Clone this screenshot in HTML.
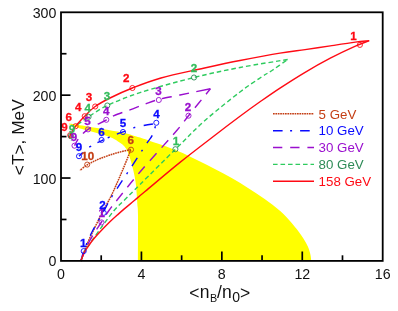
<!DOCTYPE html>
<html><head><meta charset="utf-8"><title>chart</title>
<style>
html,body{margin:0;padding:0;background:#fff;}
body{width:398px;height:311px;overflow:hidden;position:relative;font-family:"Liberation Sans",sans-serif;}
svg text{font-family:"Liberation Sans",sans-serif;}
</style></head><body>
<svg width="398" height="311" viewBox="0 0 398 311" style="position:absolute;left:0;top:0;will-change:transform;opacity:0.999">
<rect x="0" y="0" width="398" height="311" fill="#fff"/>
<path d="M69.0 123.4 C71.2 123.8 76.6 124.6 82.1 125.6 C87.6 126.5 95.5 127.9 102.2 129.1 C108.9 130.3 115.7 131.1 122.3 132.6 C128.9 134.1 137.4 136.9 142.0 138.3 C146.6 139.7 145.9 139.6 150.0 140.9 C154.1 142.2 160.9 144.4 166.3 146.4 C171.8 148.4 177.2 150.6 182.7 153.0 C188.1 155.4 193.6 158.4 199.0 161.1 C204.4 163.8 209.9 166.5 215.3 169.3 C220.8 172.1 226.2 175.0 231.7 178.1 C237.1 181.2 242.6 184.5 248.0 187.9 C253.4 191.3 258.9 194.8 264.3 198.7 C269.7 202.5 275.6 206.9 280.2 211.0 C284.8 215.1 288.2 218.9 291.7 223.0 C295.2 227.1 298.8 231.7 301.4 235.5 C304.0 239.3 306.1 242.8 307.6 246.0 C309.1 249.2 309.8 251.9 310.4 254.4 C311.0 256.9 311.1 259.9 311.2 261.0 L138.0 261 L138.0 261.0 C138.0 253.3 138.1 224.3 138.0 215.0 C137.9 205.7 137.6 208.0 137.4 205.0 C137.2 202.0 137.2 200.9 136.9 197.0 C136.6 193.1 136.2 186.1 135.5 181.4 C134.8 176.7 133.8 172.3 133.0 169.0 C132.2 165.7 131.7 163.9 131.0 161.5 C130.3 159.1 129.6 156.6 128.8 154.5 C128.0 152.4 127.2 150.5 126.2 148.8 C125.2 147.1 123.9 145.7 122.5 144.5 C121.1 143.3 119.7 142.6 118.0 141.5 C116.3 140.4 114.9 139.3 112.3 138.1 C109.7 136.9 107.2 136.0 102.2 134.5 C97.2 133.0 87.6 130.8 82.1 129.1 C76.6 127.4 71.2 125.0 69.0 124.2 Z" fill="#ffff00" stroke="none"/>
<path d="M80.9 261.0 C82.1 257.8 85.3 248.3 88.1 241.8 C90.9 235.3 94.4 228.3 97.5 222.0 C100.6 215.7 104.2 209.1 106.9 204.0 C109.6 198.9 110.6 197.3 113.4 191.2 C116.2 185.1 120.8 174.4 123.7 167.5 C126.6 160.6 129.7 152.5 130.9 149.5" fill="none" stroke="#c43e14" stroke-width="1.5" stroke-dasharray="1.7 0.7"/>
<path d="M130.9 149.5 C129.1 149.9 123.5 151.1 120.0 152.0 C116.5 152.9 113.3 153.9 110.0 155.0 C106.7 156.1 103.0 157.4 100.2 158.5 C97.4 159.6 95.2 160.8 93.0 161.8 C90.8 162.9 89.4 163.4 87.2 164.8 C85.0 166.2 81.1 169.5 79.9 170.4" fill="none" stroke="#c43e14" stroke-width="1.5" stroke-dasharray="1.7 0.7"/>
<path d="M80.9 261.0 C81.4 259.2 82.2 255.1 84.0 250.3 C85.8 245.5 88.8 238.3 92.0 232.0 C95.2 225.7 99.6 218.5 103.0 212.5 C106.4 206.5 107.7 203.2 112.2 196.0 C116.7 188.8 124.2 177.8 130.0 169.0 C135.8 160.2 143.2 148.8 146.9 143.2 C150.6 137.6 150.7 138.5 152.3 135.2 C153.9 131.9 155.6 125.5 156.3 123.5" fill="none" stroke="#0a0aff" stroke-width="1.4" stroke-dasharray="9.6 7.5 2 8" stroke-dashoffset="27.06"/>
<path d="M156.3 123.5 C154.1 123.8 146.9 124.9 143.2 125.6 C139.5 126.3 137.5 126.6 134.2 127.6 C130.8 128.6 126.8 130.4 123.1 131.8 C119.4 133.2 115.6 134.5 112.0 136.0 C108.4 137.5 105.4 138.8 101.4 140.8 C97.4 142.8 91.7 145.4 88.0 148.0 C84.3 150.6 80.5 154.8 79.0 156.2" fill="none" stroke="#0a0aff" stroke-width="1.4" stroke-dasharray="0.0 3.5 9.2 8.8 2.1 8.7 8.7 7.9 2.2 4.6 6.7 6.8 2.3 8.5 5.5 500.0"/>
<path d="M80.9 261.0 C81.8 258.8 84.0 252.3 86.0 248.0 C88.0 243.7 90.4 239.3 93.0 235.0 C95.6 230.7 98.8 226.2 101.5 222.0 C104.2 217.8 106.5 213.9 109.3 210.0 C112.1 206.1 113.2 204.8 118.3 198.5 C123.4 192.2 130.2 183.4 140.0 172.0 C149.8 160.6 169.1 139.4 177.2 130.0 C185.3 120.6 183.0 122.6 188.5 115.7 C194.0 108.8 206.8 93.3 210.4 88.8" fill="none" stroke="#9a0fce" stroke-width="1.4" stroke-dasharray="10 7.4" stroke-dashoffset="16.73"/>
<path d="M210.4 88.8 C205.3 89.8 188.6 93.2 180.0 95.0 C171.4 96.8 164.7 97.9 158.9 99.4 C153.1 100.9 150.2 102.2 145.3 104.0 C140.4 105.8 134.4 108.2 129.2 110.1 C124.0 112.0 117.9 113.9 114.1 115.6 C110.2 117.3 110.4 117.8 106.1 120.1 C101.8 122.4 92.5 126.4 88.0 129.4 C83.5 132.4 81.2 135.3 79.0 138.0 C76.8 140.7 75.2 144.4 74.5 145.7" fill="none" stroke="#9a0fce" stroke-width="1.4" stroke-dasharray="14.4 7.4 10 7.4 10 7.4 10 7.4 10 7.4 10 7.4 10 7.4 10 7.4 10 7.4 10 7.4 10 7.4 10 7.4 10 7.4 10 7.4 10 7.4 "/>
<path d="M80.9 261.0 C81.6 259.3 83.1 254.5 85.0 251.0 C86.9 247.5 89.4 244.5 92.5 240.0 C95.6 235.5 100.1 229.1 103.7 224.2 C107.3 219.3 110.5 214.6 114.1 210.5 C117.6 206.4 120.7 203.8 125.0 199.5 C129.3 195.2 131.6 192.9 140.0 184.5 C148.4 176.1 164.5 160.1 175.4 149.3 C186.3 138.6 194.7 129.6 205.5 120.0 C216.3 110.5 230.9 99.0 240.0 92.0 C249.1 85.0 254.6 81.7 260.0 78.0 C265.4 74.3 268.1 73.1 272.7 70.0 C277.3 66.9 285.2 61.2 287.7 59.5" fill="none" stroke="#2ecb5e" stroke-width="1.4" stroke-dasharray="4.6 2.9"/>
<path d="M287.7 59.5 C279.8 60.8 255.6 64.5 240.0 67.5 C224.4 70.5 210.7 73.3 194.0 77.5 C177.3 81.7 154.4 87.9 140.0 92.6 C125.5 97.3 115.9 101.5 107.3 105.5 C98.7 109.5 93.8 113.4 88.6 116.8 C83.4 120.2 78.7 123.6 76.0 126.0 C73.3 128.4 73.1 129.3 72.3 131.0 C71.5 132.7 71.2 134.3 71.0 136.0 C70.8 137.7 71.2 140.2 71.3 141.0" fill="none" stroke="#2ecb5e" stroke-width="1.4" stroke-dasharray="4.6 2.9"/>
<path d="M80.9 261.0 C81.4 259.7 82.8 255.4 84.0 253.0 C85.2 250.6 86.5 248.7 88.2 246.3 C89.9 243.9 91.7 241.2 94.0 238.5 C96.3 235.8 99.2 232.7 101.8 230.0 C104.4 227.3 106.9 224.8 109.4 222.3 C111.9 219.9 114.5 217.5 117.0 215.3 C119.5 213.1 121.4 211.4 124.3 208.9 C127.2 206.4 131.2 203.2 134.6 200.3 C138.0 197.4 137.4 197.8 145.0 191.5 C152.6 185.2 168.3 171.8 180.0 162.4 C191.7 153.0 205.3 142.7 215.3 135.0 C225.3 127.3 232.6 121.8 240.0 116.3 C247.4 110.8 253.3 106.5 260.0 101.8 C266.7 97.1 272.5 93.0 280.0 88.1 C287.5 83.2 296.7 77.3 305.1 72.3 C313.5 67.3 321.9 62.6 330.3 58.2 C338.7 53.9 348.9 49.1 355.4 46.2 C361.9 43.3 366.9 41.5 369.2 40.6" fill="none" stroke="#ff0a14" stroke-width="1.4"/>
<path d="M369.2 40.6 C366.9 40.9 361.9 41.2 355.4 42.1 C348.9 43.0 338.7 44.6 330.3 45.9 C321.9 47.1 313.5 48.4 305.1 49.6 C296.7 50.8 290.9 51.3 280.0 53.1 C269.1 54.9 253.3 57.9 240.0 60.5 C226.7 63.1 213.2 66.1 200.0 69.0 C186.8 71.9 172.3 74.8 161.0 78.0 C149.7 81.2 140.9 84.7 132.4 88.0 C123.9 91.3 116.2 94.9 110.0 98.0 C103.8 101.1 99.4 103.5 95.2 106.5 C91.0 109.5 88.0 112.9 84.7 116.2 C81.4 119.5 78.0 123.0 75.6 126.2 C73.2 129.4 71.2 133.1 70.2 135.2 C69.2 137.2 69.5 137.9 69.3 138.5" fill="none" stroke="#ff0a14" stroke-width="1.4"/>
<circle cx="359.9" cy="44.9" r="2.55" fill="none" stroke="#ff0a14" stroke-width="0.9"/>
<circle cx="132.4" cy="88.0" r="2.55" fill="none" stroke="#ff0a14" stroke-width="0.9"/>
<circle cx="95.2" cy="106.5" r="2.55" fill="none" stroke="#ff0a14" stroke-width="0.9"/>
<circle cx="84.7" cy="116.2" r="2.55" fill="none" stroke="#ff0a14" stroke-width="0.9"/>
<circle cx="75.6" cy="126.2" r="2.55" fill="none" stroke="#ff0a14" stroke-width="0.9"/>
<circle cx="70.2" cy="135.2" r="2.55" fill="none" stroke="#ff0a14" stroke-width="0.9"/>
<circle cx="175.4" cy="149.2" r="2.55" fill="none" stroke="#2e8b57" stroke-width="0.9"/>
<circle cx="194.0" cy="77.5" r="2.55" fill="none" stroke="#2e8b57" stroke-width="0.9"/>
<circle cx="107.3" cy="105.5" r="2.55" fill="none" stroke="#2e8b57" stroke-width="0.9"/>
<circle cx="88.6" cy="116.8" r="2.55" fill="none" stroke="#2e8b57" stroke-width="0.9"/>
<circle cx="70.9" cy="136.0" r="2.55" fill="none" stroke="#2e8b57" stroke-width="0.9"/>
<circle cx="101.5" cy="222.4" r="2.55" fill="none" stroke="#9a0fce" stroke-width="0.9"/>
<circle cx="188.5" cy="115.7" r="2.55" fill="none" stroke="#9a0fce" stroke-width="0.9"/>
<circle cx="158.8" cy="100.0" r="2.55" fill="none" stroke="#9a0fce" stroke-width="0.9"/>
<circle cx="106.3" cy="119.8" r="2.55" fill="none" stroke="#9a0fce" stroke-width="0.9"/>
<circle cx="88.0" cy="129.4" r="2.55" fill="none" stroke="#9a0fce" stroke-width="0.9"/>
<circle cx="74.5" cy="145.7" r="2.55" fill="none" stroke="#9a0fce" stroke-width="0.9"/>
<circle cx="83.7" cy="251.1" r="2.55" fill="none" stroke="#0a0aff" stroke-width="0.9"/>
<circle cx="103.7" cy="212.8" r="2.55" fill="none" stroke="#0a0aff" stroke-width="0.9"/>
<circle cx="156.3" cy="122.8" r="2.55" fill="none" stroke="#0a0aff" stroke-width="0.9"/>
<circle cx="123.0" cy="132.0" r="2.55" fill="none" stroke="#0a0aff" stroke-width="0.9"/>
<circle cx="101.6" cy="140.0" r="2.55" fill="none" stroke="#0a0aff" stroke-width="0.9"/>
<circle cx="79.0" cy="156.2" r="2.55" fill="none" stroke="#0a0aff" stroke-width="0.9"/>
<circle cx="131.0" cy="149.7" r="2.55" fill="none" stroke="#c43e14" stroke-width="0.9"/>
<circle cx="87.2" cy="164.6" r="2.55" fill="none" stroke="#c43e14" stroke-width="0.9"/>
<text x="353.4" y="39.5" fill="#ff0a14" font-size="11.6" font-weight="bold" text-anchor="middle" stroke="#ff0a14" stroke-width="0.3">1</text>
<text x="126.3" y="82.2" fill="#ff0a14" font-size="11.6" font-weight="bold" text-anchor="middle" stroke="#ff0a14" stroke-width="0.3">2</text>
<text x="89.0" y="101.3" fill="#ff0a14" font-size="11.6" font-weight="bold" text-anchor="middle" stroke="#ff0a14" stroke-width="0.3">3</text>
<text x="78.3" y="111.2" fill="#ff0a14" font-size="11.6" font-weight="bold" text-anchor="middle" stroke="#ff0a14" stroke-width="0.3">4</text>
<text x="68.7" y="120.8" fill="#ff0a14" font-size="11.6" font-weight="bold" text-anchor="middle" stroke="#ff0a14" stroke-width="0.3">6</text>
<text x="64.5" y="130.9" fill="#ff0a14" font-size="11.6" font-weight="bold" text-anchor="middle" stroke="#ff0a14" stroke-width="0.3">9</text>
<text x="176.0" y="144.5" fill="#33bd5c" font-size="11.6" font-weight="bold" text-anchor="middle" stroke="#33bd5c" stroke-width="0.3">1</text>
<text x="193.9" y="72.2" fill="#33bd5c" font-size="11.6" font-weight="bold" text-anchor="middle" stroke="#33bd5c" stroke-width="0.3">2</text>
<text x="107.0" y="100.3" fill="#33bd5c" font-size="11.6" font-weight="bold" text-anchor="middle" stroke="#33bd5c" stroke-width="0.3">3</text>
<text x="87.8" y="111.6" fill="#33bd5c" font-size="11.6" font-weight="bold" text-anchor="middle" stroke="#33bd5c" stroke-width="0.3">4</text>
<text x="72.0" y="133.0" fill="#33bd5c" font-size="11.6" font-weight="bold" text-anchor="middle" stroke="#33bd5c" stroke-width="0.3">9</text>
<text x="101.7" y="217.2" fill="#9a0fce" font-size="11.6" font-weight="bold" text-anchor="middle" stroke="#9a0fce" stroke-width="0.3">1</text>
<text x="188.0" y="110.5" fill="#9a0fce" font-size="11.6" font-weight="bold" text-anchor="middle" stroke="#9a0fce" stroke-width="0.3">2</text>
<text x="158.4" y="95.1" fill="#9a0fce" font-size="11.6" font-weight="bold" text-anchor="middle" stroke="#9a0fce" stroke-width="0.3">3</text>
<text x="106.3" y="115.0" fill="#9a0fce" font-size="11.6" font-weight="bold" text-anchor="middle" stroke="#9a0fce" stroke-width="0.3">4</text>
<text x="87.6" y="124.7" fill="#9a0fce" font-size="11.6" font-weight="bold" text-anchor="middle" stroke="#9a0fce" stroke-width="0.3">5</text>
<text x="74.1" y="140.8" fill="#9a0fce" font-size="11.6" font-weight="bold" text-anchor="middle" stroke="#9a0fce" stroke-width="0.3">9</text>
<text x="83.2" y="246.5" fill="#0a0aff" font-size="11.6" font-weight="bold" text-anchor="middle" stroke="#0a0aff" stroke-width="0.3">1</text>
<text x="102.6" y="208.5" fill="#0a0aff" font-size="11.6" font-weight="bold" text-anchor="middle" stroke="#0a0aff" stroke-width="0.3">2</text>
<text x="156.4" y="118.2" fill="#0a0aff" font-size="11.6" font-weight="bold" text-anchor="middle" stroke="#0a0aff" stroke-width="0.3">4</text>
<text x="123.1" y="127.3" fill="#0a0aff" font-size="11.6" font-weight="bold" text-anchor="middle" stroke="#0a0aff" stroke-width="0.3">5</text>
<text x="101.4" y="135.6" fill="#0a0aff" font-size="11.6" font-weight="bold" text-anchor="middle" stroke="#0a0aff" stroke-width="0.3">6</text>
<text x="79.0" y="151.3" fill="#0a0aff" font-size="11.6" font-weight="bold" text-anchor="middle" stroke="#0a0aff" stroke-width="0.3">9</text>
<text x="130.8" y="144.3" fill="#c43e14" font-size="11.6" font-weight="bold" text-anchor="middle" stroke="#c43e14" stroke-width="0.3">6</text>
<text x="87.7" y="160.0" fill="#c43e14" font-size="11.6" font-weight="bold" text-anchor="middle" stroke="#c43e14" stroke-width="0.3">10</text>
<rect x="61.00" y="12.30" width="321.70" height="248.60" fill="none" stroke="#000" stroke-width="1.8"/>
<line x1="101.21" y1="260.90" x2="101.21" y2="255.30" stroke="#000" stroke-width="1.7"/>
<line x1="141.43" y1="260.90" x2="141.43" y2="251.50" stroke="#000" stroke-width="1.7"/>
<line x1="181.64" y1="260.90" x2="181.64" y2="255.30" stroke="#000" stroke-width="1.7"/>
<line x1="221.85" y1="260.90" x2="221.85" y2="251.50" stroke="#000" stroke-width="1.7"/>
<line x1="262.06" y1="260.90" x2="262.06" y2="255.30" stroke="#000" stroke-width="1.7"/>
<line x1="302.27" y1="260.90" x2="302.27" y2="251.50" stroke="#000" stroke-width="1.7"/>
<line x1="342.49" y1="260.90" x2="342.49" y2="255.30" stroke="#000" stroke-width="1.7"/>
<line x1="61.00" y1="219.47" x2="66.50" y2="219.47" stroke="#000" stroke-width="1.7"/>
<line x1="61.00" y1="178.03" x2="70.50" y2="178.03" stroke="#000" stroke-width="1.7"/>
<line x1="61.00" y1="136.60" x2="66.50" y2="136.60" stroke="#000" stroke-width="1.7"/>
<line x1="61.00" y1="95.17" x2="70.50" y2="95.17" stroke="#000" stroke-width="1.7"/>
<line x1="61.00" y1="53.73" x2="66.50" y2="53.73" stroke="#000" stroke-width="1.7"/>
<text x="61.0" y="278.5" font-size="14.2" text-anchor="middle" fill="#111">0</text>
<text x="141.4" y="278.5" font-size="14.2" text-anchor="middle" fill="#111">4</text>
<text x="221.8" y="278.5" font-size="14.2" text-anchor="middle" fill="#111">8</text>
<text x="302.3" y="278.5" font-size="14.2" text-anchor="middle" fill="#111">12</text>
<text x="382.7" y="278.5" font-size="14.2" text-anchor="middle" fill="#111">16</text>
<text x="56.3" y="266.3" font-size="14.2" text-anchor="end" fill="#111">0</text>
<text x="56.3" y="183.5" font-size="14.2" text-anchor="end" fill="#111">100</text>
<text x="56.3" y="100.6" font-size="14.2" text-anchor="end" fill="#111">200</text>
<text x="56.3" y="17.8" font-size="14.2" text-anchor="end" fill="#111">300</text>
<text x="189.3" y="299.2" font-size="17.5" fill="#111">&lt;</text>
<text x="199.8" y="298.0" font-size="17.5" fill="#111">n</text>
<text x="210.0" y="301.6" font-size="10.8" fill="#111">B</text>
<text x="216.9" y="298.0" font-size="17.5" fill="#111">/</text>
<text x="222.0" y="298.0" font-size="17.5" fill="#111">n</text>
<text x="232.2" y="301.7" font-size="14" fill="#111">0</text>
<text x="239.9" y="299.2" font-size="17.5" fill="#111">&gt;</text>
<text transform="translate(24.0,137.2) rotate(-90)" font-size="17.3" text-anchor="middle" fill="#111"><tspan dy="1.1">&lt;</tspan><tspan dy="-1.1">T</tspan><tspan dy="1.1">&gt;</tspan><tspan dy="-1.1">, MeV</tspan></text>
<line x1="273" y1="113.8" x2="314" y2="113.8" stroke="#c43e14" stroke-width="1.4" stroke-dasharray="1.7 0.7"/>
<text x="318.6" y="118.5" font-size="13.3" fill="#c43e14">5 GeV</text>
<line x1="273" y1="130.7" x2="314" y2="130.7" stroke="#0a0aff" stroke-width="1.4" stroke-dasharray="9.6 7.5 2 8"/>
<text x="318.6" y="135.4" font-size="13.3" fill="#0a0aff">10 GeV</text>
<line x1="273" y1="147.5" x2="314" y2="147.5" stroke="#9a0fce" stroke-width="1.4" stroke-dasharray="9.3 7.9"/>
<text x="318.6" y="152.2" font-size="13.3" fill="#9a0fce">30 GeV</text>
<line x1="273" y1="164.4" x2="314" y2="164.4" stroke="#2ecb5e" stroke-width="1.4" stroke-dasharray="4.6 2.9"/>
<text x="318.6" y="169.1" font-size="13.3" fill="#2e8b57">80 GeV</text>
<line x1="273" y1="181.2" x2="314" y2="181.2" stroke="#ff0a14" stroke-width="1.4"/>
<text x="318.6" y="185.9" font-size="13.3" fill="#ff0a14">158 GeV</text>
</svg>
</body></html>
